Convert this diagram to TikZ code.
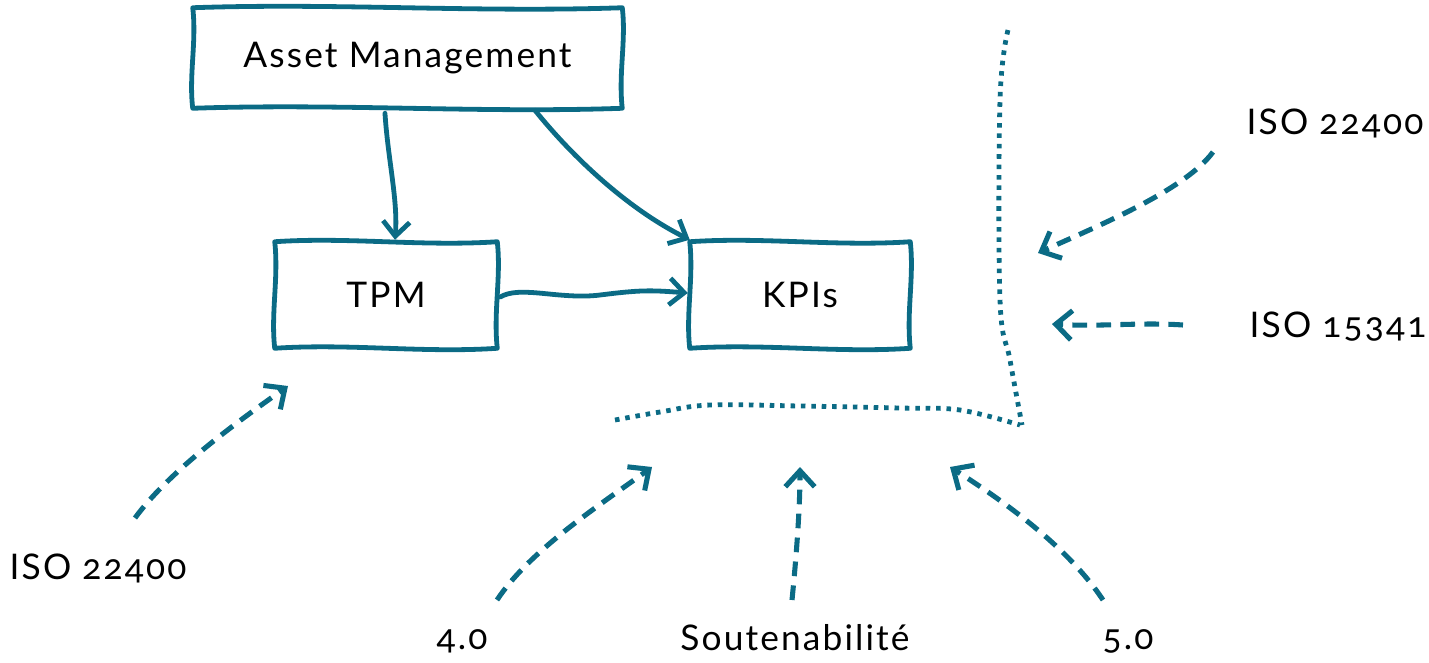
\documentclass[tikz,border=0pt]{standalone}
\usepackage{fontspec}
\setmainfont{Lato}[Numbers=OldStyle,LetterSpace=6]
\usetikzlibrary{arrows.meta,calc}
\definecolor{teal1}{RGB}{11,107,133}
\tikzset{
  box/.style={inner sep=0pt, font=\fontsize{26.5}{31}\selectfont},
  boxline/.style={draw=teal1, line width=3.6pt, line join=round, line cap=round},
  lbl/.style={inner sep=0pt, font=\fontsize{26.5}{31}\selectfont},
  conn/.style={draw=teal1, line width=3.6pt, line cap=round,
    -{Straight Barb[length=11pt,width=20pt,line width=3.6pt]}},
  dconn/.style={draw=teal1, line width=3.8pt, dash pattern=on 11pt off 7pt,
    -{Straight Barb[length=12pt,width=22pt,line width=3.8pt]}},
  dotline/.style={draw=teal1, line width=3.6pt, dash pattern=on 3.4pt off 4.4pt}
}
\newcommand\wobble[1]{%
  \draw[boxline] (#1.north west)
    .. controls ($(#1.north west)!0.33!(#1.north east)+(0,-5)$) and ($(#1.north west)!0.66!(#1.north east)+(0,5)$) .. (#1.north east)
    .. controls ($(#1.north east)!0.33!(#1.south east)+(4,0)$) and ($(#1.north east)!0.66!(#1.south east)+(-4,0)$) .. (#1.south east)
    .. controls ($(#1.south east)!0.33!(#1.south west)+(0,5)$) and ($(#1.south east)!0.66!(#1.south west)+(0,-5)$) .. (#1.south west)
    .. controls ($(#1.south west)!0.33!(#1.north west)+(-4,0)$) and ($(#1.south west)!0.66!(#1.north west)+(4,0)$) .. (#1.north west) -- cycle;%
}
\begin{document}
\begin{tikzpicture}[x=0.75pt,y=-0.75pt]
\useasboundingbox (0,0) rectangle (1429,662);
% boxes
\node[box, minimum width=321.75pt, minimum height=75pt] (am) at (407.5,58) {Asset Management};
\node[box, minimum width=166.5pt, minimum height=79.5pt] (tpm) at (386,295) {TPM};
\node[box, minimum width=165pt, minimum height=79.5pt] (kpis) at (800,295) {KPIs};
\wobble{am}
\wobble{tpm}
\wobble{kpis}
% labels
\node[lbl] (isoA) at (1335,123) {ISO 22400};
\node[lbl] (isoB) at (1338,327) {ISO 15341};
\node[lbl] (isoC) at (98,568) {ISO 22400};
\node[lbl] (four) at (462,641) {4.0};
\node[lbl] (sout) at (795,638) {Soutenabilité};
\node[lbl] (five) at (1128,641) {5.0};
% coordinates
\coordinate (aS) at (1213,152); \coordinate (aE) at (1038,253);
\coordinate (bS) at (1183,325); \coordinate (bE) at (1052,324);
\coordinate (cS) at (135,518);  \coordinate (cE) at (288,386);
\coordinate (dS) at (497,600);  \coordinate (dE) at (652,467);
\coordinate (eS) at (792,600);  \coordinate (eE) at (800,467);
\coordinate (fS) at (1103,600); \coordinate (fE) at (950,467);
% solid connectors
\draw[conn] ([xshift=-16.9pt,yshift=-3.75pt]am.south) .. controls (388,160) and (398,200) .. ([xshift=6.75pt,yshift=1.5pt]tpm.north);
\draw[conn] ([xshift=95.6pt,yshift=-1.5pt]am.south) .. controls (575,160) and (630,210) .. ([yshift=1.5pt]kpis.north west);
\draw[conn] ([xshift=2.25pt,yshift=-1.5pt]tpm.east) .. controls (520,285) and (560,300) .. (600,295) .. controls (640,290) and (650,290) .. ([xshift=-1.5pt,yshift=1.5pt]kpis.west);
% dashed connectors
\draw[dconn] (aS) .. controls (1185,190) and (1100,225) .. (aE);
\draw[dconn] (bS) .. controls (1140,322) and (1100,327) .. (bE);
\draw[dconn] (cS) .. controls (170,470) and (240,420) .. (cE);
\draw[dconn] (dS) .. controls (530,550) and (600,505) .. (dE);
\draw[dconn] (eS) .. controls (796,560) and (800,510) .. (eE);
\draw[dconn] (fS) .. controls (1070,550) and (1010,505) .. (fE);
% dotted boundaries
\draw[dotline] plot[smooth, tension=0.6] coordinates {(1008,30) (1000,100) (1000,300) (1010,360) (1022,425)};
\draw[dotline] plot[smooth, tension=0.6] coordinates {(615,420) (660,412) (710,405) (800,406) (900,408) (960,410) (1020,425)};
\end{tikzpicture}
\end{document}
